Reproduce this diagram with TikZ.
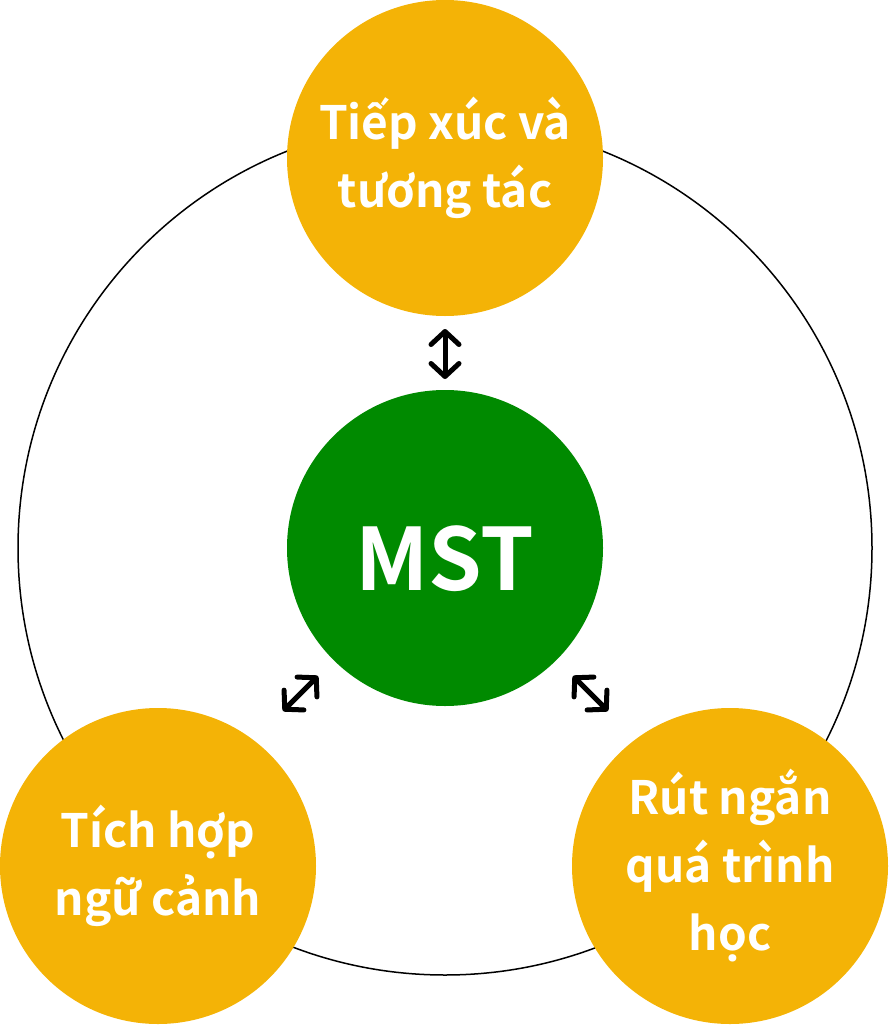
\documentclass[tikz,border=0pt]{standalone}
\usepackage{fontspec}
\setmainfont{Noto Sans CJK SC}[BoldFont={* Bold}]
\usetikzlibrary{arrows.meta}

\definecolor{amber}{RGB}{244,179,6}
\definecolor{mstgreen}{RGB}{0,138,0}

\tikzset{
  topic/.style={circle, fill=amber, minimum size=316pt, inner sep=0pt,
    text=white, align=center, font=\bfseries\fontsize{46}{68}\selectfont},
  barb/.tip={Straight Barb[length=13pt,width=28pt,line width=5pt,round]},
  link/.style={line width=5pt, line cap=round, {barb}-{barb}}
}

\begin{document}
\begin{tikzpicture}[x=1pt,y=-1pt]
\useasboundingbox (0,0) rectangle (890,1025);
\draw[line width=1.5pt] (445,548) circle (427pt);
%
\node[circle, fill=mstgreen, minimum size=316pt, inner sep=0pt, text=white,
  text height=84pt, text depth=0pt,
  font=\bfseries\fontsize{86}{100}\selectfont] (mst) at (445,548) {MST};
\node[topic] (contact) at (445,158) {Tiếp xúc và\\tương tác};
\node[topic] (context) at (158,866) {Tích hợp\\ngữ cảnh};
\node[topic] (shorten) at (730,866) {Rút ngắn\\quá trình\\học};
%
\coordinate (c1) at (445,329);
\coordinate (c2) at (445,379);
\coordinate (l1) at (318,676);
\coordinate (l2) at (283,711);
\coordinate (r1) at (573,676);
\coordinate (r2) at (608,711);
\draw[link] (c1) -- (c2);
\draw[link] (l1) -- (l2);
\draw[link] (r1) -- (r2);
\end{tikzpicture}
\end{document}
